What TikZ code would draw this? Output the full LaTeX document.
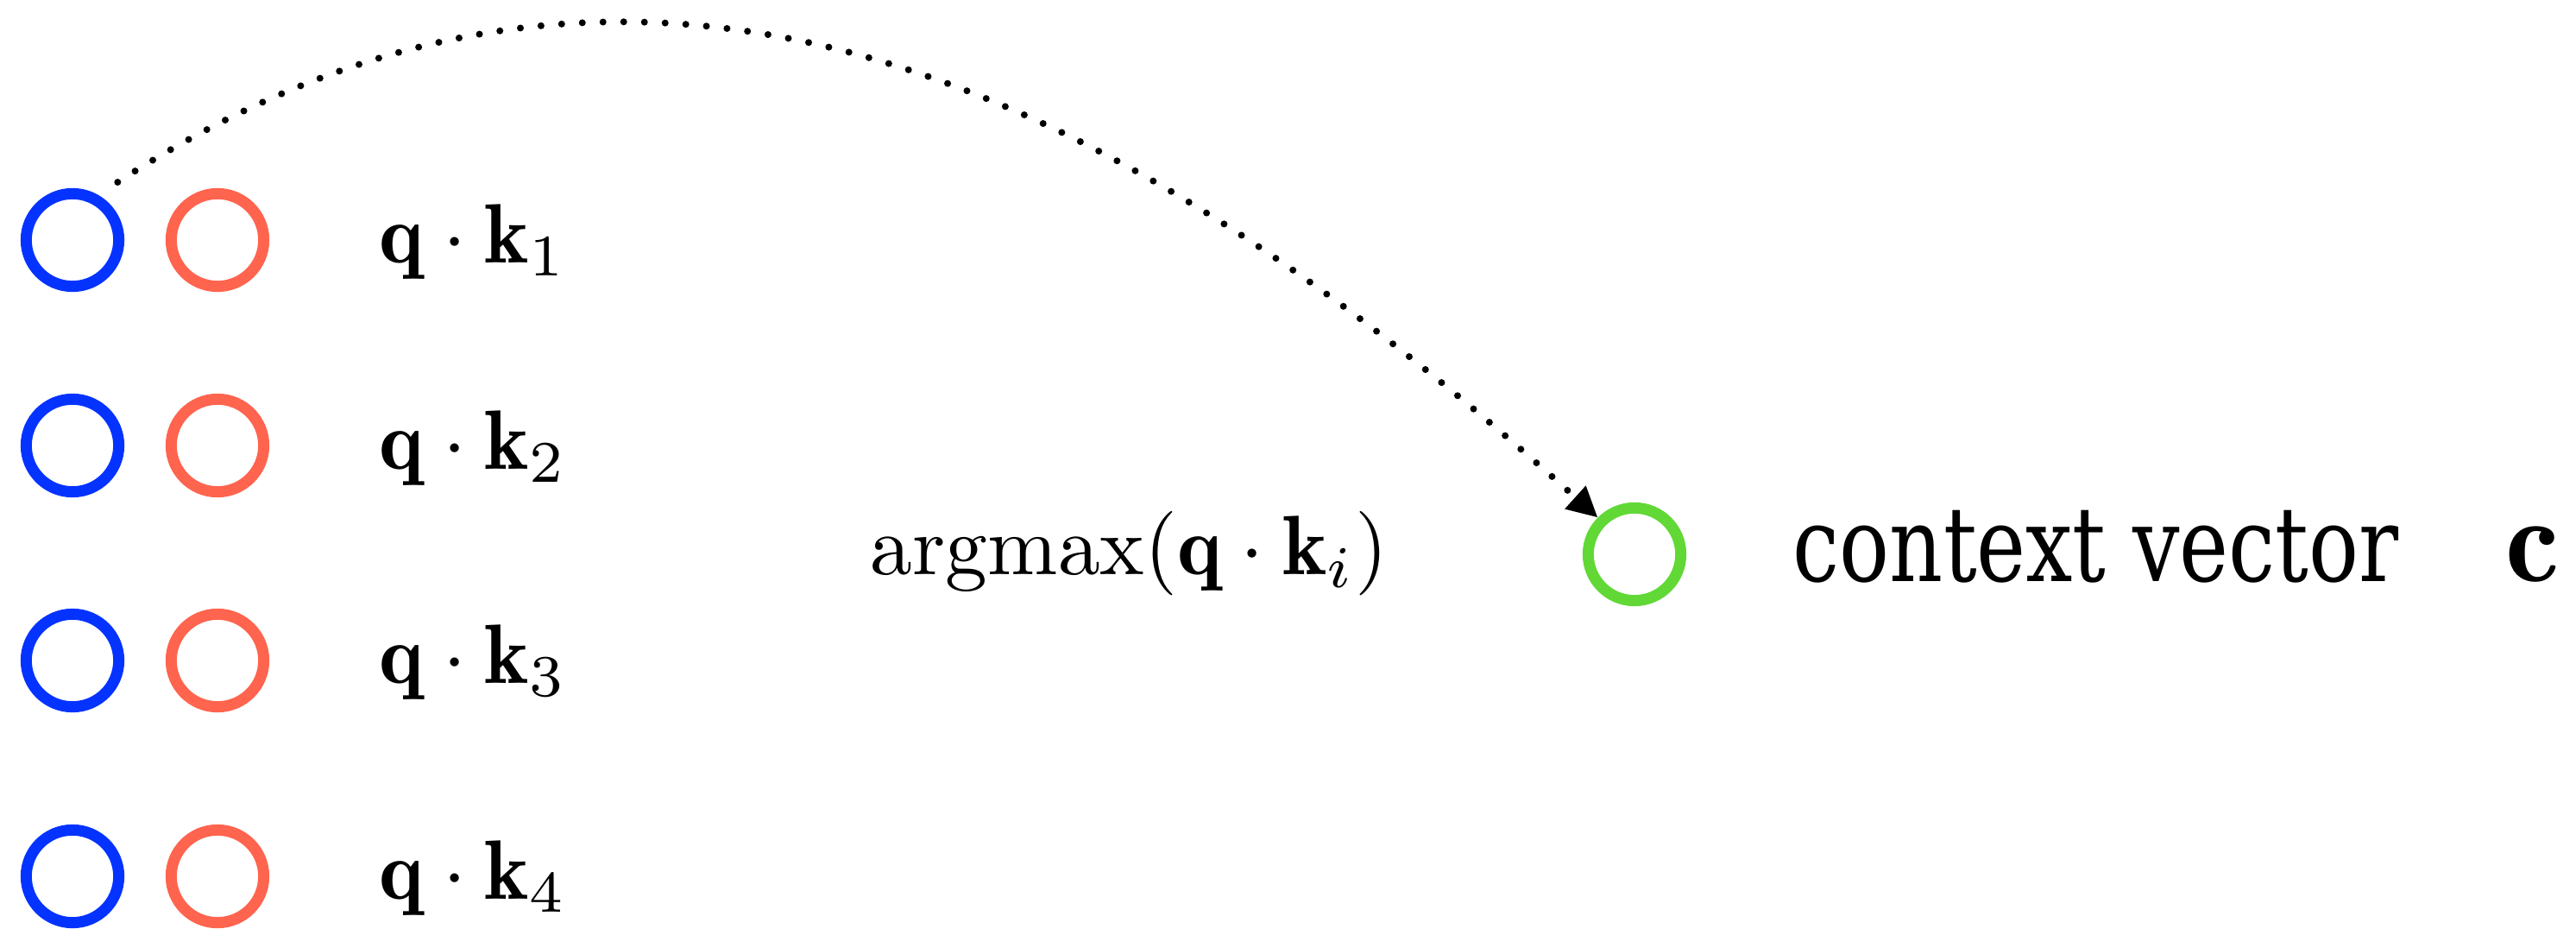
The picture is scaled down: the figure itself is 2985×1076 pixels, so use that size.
\documentclass[tikz,border=0pt]{standalone}
\usepackage{fontspec}
\newfontfamily\ctxfont{DejaVu Serif Condensed}[FakeStretch=0.885]
\usetikzlibrary{arrows.meta,calc}
\definecolor{kblue}{HTML}{0433FF}
\definecolor{kred}{HTML}{FF644E}
\definecolor{kgreen}{HTML}{61D836}
\begin{document}
\begin{tikzpicture}[x=0.1025pt,y=0.1025pt,
  ring/.style={circle,draw,line width=1.33pt,minimum size=11.0pt,inner sep=0pt},
  lbl/.style={anchor=west,inner sep=0pt},
  txt/.style={anchor=base west,inner sep=0pt},
  conn/.style={line width=0.82pt,line cap=round,dash pattern=on 0pt off 2.46pt,
    -{Triangle[length=3.6pt,width=3.5pt]}}]
\useasboundingbox (0,0) rectangle (2985,-1076);
\node[ring,draw=kblue] (b1) at (84,-278) {};
\node[ring,draw=kblue] (b2) at (84,-516) {};
\node[ring,draw=kblue] (b3) at (84,-765) {};
\node[ring,draw=kblue] (b4) at (84,-1015) {};
\node[ring,draw=kred] (r1) at (252,-278) {};
\node[ring,draw=kred] (r2) at (252,-516) {};
\node[ring,draw=kred] (r3) at (252,-765) {};
\node[ring,draw=kred] (r4) at (252,-1015) {};
\node[ring,draw=kgreen] (g) at (1894,-642) {};
\node[lbl] (l1) at (438,-280) {$\mathbf{q}\cdot\mathbf{k}_1$};
\node[lbl] (l2) at (438,-519) {$\mathbf{q}\cdot\mathbf{k}_2$};
\node[lbl] (l3) at (438,-767) {$\mathbf{q}\cdot\mathbf{k}_3$};
\node[lbl] (l4) at (438,-1017) {$\mathbf{q}\cdot\mathbf{k}_4$};
\node[txt] (am) at (1007,-666) {$\mathrm{argmax}(\mathbf{q}\cdot\mathbf{k}_i)$};
\node[txt] (cv) at (2076,-674) {\ctxfont\fontsize{12.4}{14}\selectfont context vector};
\node[txt] (c) at (2902,-674) {\fontsize{14.4}{17}\selectfont$\mathbf{c}$};
\draw[conn] ($(b1)+(52:85)$) .. controls +(33:740) and +(138:715) .. (g.135);
\end{tikzpicture}
\end{document}
